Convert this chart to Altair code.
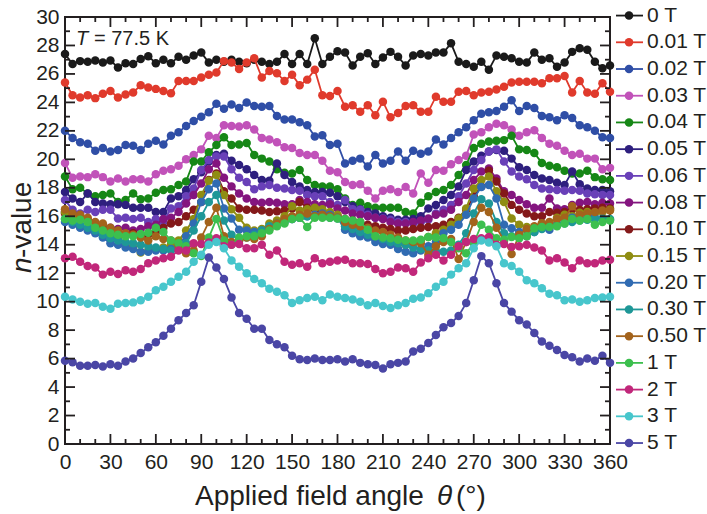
import altair as alt
import pandas as pd

# Angular sweep of the applied field (degrees)
ANGLES = list(range(0, 361, 5))

FIELD_LABELS = ["0 T", "0.01 T", "0.02 T", "0.03 T", "0.04 T", "0.05 T", "0.06 T",
                "0.08 T", "0.10 T", "0.15 T", "0.20 T", "0.30 T", "0.50 T",
                "1 T", "2 T", "3 T", "5 T"]

COLORS = ["#1a1a1a", "#e03a2c", "#2f4ea6", "#c152b9", "#168716", "#2e1f7e", "#6940b8",
          "#84157f", "#84191a", "#8f8d12", "#306bb2", "#1e9797", "#a3631c",
          "#3cbf4e", "#c1277a", "#47c6cc", "#4a46a5"]

# n-value at each angle, one list per applied field
N_0T = [27.4, 26.7, 26.9, 26.85, 26.95, 26.8, 26.95, 26.45, 26.75, 26.7, 27.05, 27.25,
        26.75, 27.0, 26.75, 27.2, 27.0, 27.3, 27.5, 26.8, 27.0, 26.85, 27.0, 26.85,
        26.75, 27.0, 26.85, 26.7, 26.85, 27.4, 26.7, 27.4, 26.7, 28.5, 26.7, 27.2,
        27.6, 27.5, 26.6, 27.2, 27.45, 26.7, 27.15, 27.55, 27.2, 26.6, 27.3, 27.4,
        27.3, 27.5, 27.5, 28.15, 26.85, 26.7, 26.5, 26.85, 26.3, 27.3, 27.2, 27.1,
        26.85, 26.8, 27.5, 27.0, 27.1, 26.5, 26.8, 27.55, 27.8, 27.7, 26.85, 26.4,
        26.6]
N_001 = [25.4, 24.5, 24.35, 24.5, 24.3, 24.6, 24.8, 24.35, 24.55, 24.7, 25.2, 25.05,
         24.95, 24.8, 24.65, 25.5, 25.5, 25.5, 25.75, 25.95, 26.1, 26.9, 26.8, 26.35,
         26.8, 27.1, 25.75, 26.2, 26.05, 25.5, 25.95, 25.2, 25.6, 26.3, 24.5, 24.45,
         24.8, 23.7, 23.8, 23.35, 23.8, 23.1, 24.05, 22.95, 23.25, 23.75, 23.8, 23.35,
         23.35, 24.4, 24.05, 24.05, 24.75, 24.8, 24.5, 24.7, 24.75, 24.9, 25.1, 25.4,
         25.45, 25.45, 25.45, 25.35, 25.7, 25.7, 25.85, 24.7, 25.5, 24.7, 24.6, 25.35,
         24.75]
N_002 = [22.0, 21.5, 21.2, 21.1, 20.6, 20.8, 20.55, 20.65, 21.0, 20.95, 20.65, 21.1,
         21.3, 21.05, 21.65, 21.9, 22.35, 22.7, 23.0, 23.3, 23.9, 23.55, 23.85, 23.6,
         24.0, 23.75, 23.7, 23.75, 23.05, 22.8, 22.8, 22.6, 22.4, 21.6, 21.7, 21.0,
         21.1, 19.7, 19.9, 20.05, 19.5, 20.3, 19.7, 19.9, 20.55, 19.9, 20.6, 20.4,
         20.55, 21.4, 21.05, 21.5, 21.9, 22.25, 22.75, 23.2, 23.3, 23.4, 23.7, 24.15,
         23.4, 23.75, 23.6, 23.05, 22.95, 22.75, 23.1, 22.9, 22.4, 22.25, 22.0, 21.55,
         21.5]
N_003 = [19.75, 18.7, 18.8, 18.75, 18.95, 18.75, 18.45, 18.65, 18.45, 18.6, 18.6, 18.45,
         18.95, 19.2, 19.3, 19.55, 20.0, 20.3, 20.7, 21.65, 21.5, 22.4, 22.35, 22.3,
         22.4, 22.1, 21.5, 21.4, 21.2, 20.85, 20.8, 20.45, 20.3, 20.3, 19.9, 19.2,
         19.1, 18.4, 18.2, 18.25, 17.8, 17.25, 17.8, 17.9, 17.7, 18.05, 17.6, 19.0,
         18.35, 19.25, 19.2, 19.65, 19.95, 20.25, 21.75, 21.9, 22.25, 22.5, 22.4, 22.1,
         21.65, 21.9, 22.05, 21.5, 21.1, 20.95, 20.6, 20.3, 20.4, 20.05, 20.05, 19.3,
         19.4]
N_004 = [18.8, 17.9, 18.0, 17.6, 17.4, 17.5, 17.6, 17.0, 17.15, 17.6, 17.2, 17.25,
         17.65, 17.85, 17.9, 18.2, 18.45, 19.85, 19.85, 20.5, 21.0, 21.55, 21.0, 21.05,
         21.15, 20.3, 20.05, 19.85, 19.3, 19.05, 19.0, 19.25, 18.55, 18.2, 18.1, 18.1,
         17.9, 17.25, 16.8, 16.95, 16.7, 16.6, 16.6, 16.6, 16.6, 16.3, 16.2, 16.95,
         17.4, 17.7, 17.85, 18.2, 18.9, 19.6, 20.8, 21.1, 21.25, 21.3, 21.35, 21.65,
         20.7, 20.65, 20.45, 19.75, 19.55, 19.45, 19.2, 19.0, 19.0, 19.2, 18.75, 18.6,
         18.55]
N_005 = [17.7, 17.25, 17.0, 17.6, 17.0, 16.9, 16.85, 16.85, 16.8, 16.6, 16.6, 16.6,
         16.3, 16.3, 17.25, 17.4, 17.85, 18.6, 19.1, 19.85, 20.3, 20.4, 19.9, 19.6,
         19.3, 18.9, 18.55, 18.5, 19.7, 18.9, 18.4, 18.1, 17.85, 17.7, 17.7, 17.65,
         17.4, 17.0, 16.7, 16.5, 16.3, 16.2, 16.0, 15.9, 15.75, 15.75, 15.8, 16.0,
         16.55, 16.8, 17.15, 17.5, 18.1, 19.25, 19.85, 20.25, 20.55, 20.65, 20.6, 20.05,
         19.45, 19.25, 18.9, 18.65, 18.55, 18.35, 18.2, 19.15, 18.25, 17.95, 17.85, 17.85,
         17.75]
N_006 = [17.15, 16.45, 16.2, 16.45, 16.3, 16.45, 16.45, 15.85, 15.9, 15.8, 15.9, 15.6,
         15.8, 15.6, 16.55, 16.7, 17.4, 17.95, 19.25, 19.95, 20.2, 20.2, 19.3, 18.7,
         18.4, 17.9, 18.1, 18.2, 18.0, 17.95, 17.85, 17.8, 17.5, 17.4, 17.4, 17.0,
         16.8, 17.15, 16.5, 16.45, 16.1, 15.9, 15.85, 15.75, 15.6, 15.6, 15.5, 15.6,
         15.75, 16.2, 16.45, 16.8, 17.4, 18.3, 19.25, 19.95, 20.55, 20.7, 19.85, 19.15,
         18.8, 18.6, 18.2, 17.95, 17.9, 17.85, 17.8, 17.85, 17.8, 17.6, 17.55, 17.5,
         17.5]
N_008 = [16.3, 16.1, 15.9, 15.7, 15.5, 15.3, 15.2, 15.1, 15.2, 15.0, 15.1, 15.3,
         15.4, 15.8, 15.9, 16.3, 16.9, 17.5, 18.3, 19.3, 19.7, 18.7, 18.1, 17.6,
         17.25, 17.0, 16.95, 17.0, 16.95, 16.85, 16.85, 17.15, 17.0, 16.85, 16.8, 16.85,
         16.55, 16.4, 16.2, 16.1, 16.0, 15.9, 15.8, 15.6, 15.5, 15.5, 15.6, 15.7,
         15.85, 16.1, 16.2, 16.45, 17.0, 17.5, 18.55, 19.15, 19.35, 18.65, 17.75, 17.5,
         17.15, 16.85, 16.6, 16.6, 17.25, 16.55, 16.5, 16.8, 16.95, 17.0, 16.85, 16.95,
         16.9]
N_010 = [16.2, 16.0, 15.9, 15.7, 15.5, 15.2, 15.0, 14.9, 14.7, 14.8, 14.6, 14.7,
         14.9, 15.2, 15.5, 15.6, 16.0, 16.45, 17.0, 18.55, 19.0, 17.75, 17.25, 16.55,
         16.45, 16.45, 16.4, 16.3, 16.35, 16.4, 16.55, 17.0, 16.6, 16.5, 16.3, 16.2,
         16.0, 15.8, 15.7, 15.6, 15.4, 15.3, 15.2, 15.1, 15.0, 15.0, 15.1, 15.2,
         15.25, 15.3, 15.4, 15.6, 15.9, 16.45, 17.4, 18.1, 19.2, 18.45, 17.6, 16.8,
         16.45, 16.2, 16.0, 16.0, 16.3, 16.25, 16.3, 16.5, 16.45, 16.5, 16.55, 16.6,
         16.55]
N_015 = [16.3, 16.0, 15.8, 15.6, 15.3, 15.0, 14.6, 14.4, 14.1, 13.8, 13.45, 13.6,
         13.7, 13.8, 14.0, 14.3, 15.0, 15.8, 17.5, 18.5, 18.9, 17.5, 16.5, 15.9,
         15.2, 15.0, 15.1, 15.5, 15.7, 16.0, 16.7, 16.4, 16.5, 16.6, 16.5, 16.3,
         16.1, 15.4, 15.25, 15.2, 15.1, 14.55, 14.35, 14.2, 14.05, 14.0, 14.1, 14.3,
         14.55, 14.8, 15.05, 15.4, 15.85, 16.55, 17.95, 18.55, 18.8, 17.75, 17.0, 15.85,
         15.4, 15.25, 15.2, 15.5, 15.55, 15.9, 16.1, 16.0, 16.25, 16.3, 16.2, 16.3,
         16.45]
N_020 = [15.6, 15.4, 15.2, 15.0, 14.8, 14.5, 14.1, 14.0, 13.8, 13.7, 13.5, 13.5,
         13.6, 13.6, 13.7, 14.0, 14.6, 15.5, 17.0, 17.9, 18.3, 16.55, 15.85, 15.05,
         15.0, 14.9, 15.0, 15.2, 15.4, 15.6, 15.8, 15.9, 16.0, 16.1, 16.2, 16.1,
         15.9, 15.05, 14.8, 14.6, 14.5, 14.2, 14.05, 14.0, 13.7, 13.5, 13.4, 13.6,
         13.9, 14.2, 14.8, 15.05, 15.4, 16.1, 17.25, 18.05, 18.2, 17.25, 15.4, 15.15,
         14.9, 15.05, 14.9, 15.15, 15.05, 15.4, 15.75, 15.9, 15.75, 16.1, 15.9, 15.85,
         15.75]
N_030 = [15.8, 15.6, 15.4, 15.2, 15.0, 14.7, 14.45, 14.3, 14.2, 14.1, 14.0, 13.9,
         13.8, 13.7, 13.6, 13.8, 14.1, 15.0, 16.0, 17.0, 17.5, 15.7, 14.7, 14.3,
         14.5, 14.7, 15.0, 15.3, 15.5, 15.7, 15.8, 15.9, 16.0, 16.0, 16.0, 15.9,
         15.85, 15.3, 15.1, 14.9, 14.7, 14.6, 14.4, 14.2, 14.1, 14.0, 13.8, 13.7,
         13.6, 13.55, 13.5, 13.6, 14.0, 14.8, 16.2, 17.2, 16.9, 15.6, 14.8, 14.6,
         14.5, 14.6, 14.9, 15.1, 15.3, 15.4, 15.5, 15.6, 15.7, 15.75, 15.8, 15.8,
         15.8]
N_050 = [16.5, 16.2, 16.1, 15.9, 15.6, 15.5, 15.2, 15.0, 14.8, 14.7, 14.5, 14.3,
         14.6, 14.4, 14.3, 13.9, 13.4, 13.6, 14.5, 15.6, 16.6, 14.6, 14.2, 14.3,
         14.5, 14.4, 14.6, 15.1, 15.5, 15.8, 16.0, 16.1, 16.2, 16.0, 16.1, 16.0,
         15.9, 15.6, 15.4, 15.3, 15.2, 15.0, 14.9, 14.7, 14.5, 14.3, 14.2, 14.1,
         13.3, 13.9, 14.2, 14.4, 13.0, 14.2, 15.6, 16.6, 16.3, 15.2, 14.3, 13.35,
         14.7, 15.1, 15.3, 15.5, 15.6, 15.8, 15.9, 16.7, 16.1, 16.2, 16.3, 16.4,
         16.4]
N_1 = [15.8, 15.7, 15.75, 15.6, 15.2, 15.0, 14.8, 14.7, 14.6, 14.6, 14.75, 14.85,
       15.2, 14.9, 14.3, 14.1, 13.9, 13.4, 13.2, 14.5, 15.8, 14.3, 14.0, 14.5,
       14.6, 14.6, 14.8, 15.0, 15.3, 15.5, 15.8, 15.9, 15.25, 15.9, 15.9, 15.9,
       15.85, 15.8, 15.7, 15.6, 15.05, 14.6, 14.5, 14.45, 14.35, 14.3, 14.3, 14.35,
       14.55, 14.5, 14.45, 14.2, 13.75, 13.4, 14.1, 15.4, 15.05, 14.45, 14.35, 14.55,
       14.45, 14.6, 15.15, 15.25, 15.25, 15.3, 15.5, 15.8, 15.7, 15.8, 15.4, 15.6,
       15.7]
N_2 = [13.05, 13.15, 12.8, 12.5, 12.4, 11.9, 12.1, 11.95, 12.2, 12.1, 12.3, 12.7,
       12.9, 13.05, 13.15, 13.6, 13.6, 14.1, 14.05, 14.15, 14.45, 13.9, 14.0, 14.05,
       13.75, 13.75, 14.0, 13.3, 13.6, 12.8, 12.6, 12.7, 12.45, 13.05, 12.7, 12.8,
       12.9, 12.95, 12.7, 12.7, 12.65, 12.3, 12.0, 12.1, 12.4, 12.35, 12.1, 12.75,
       13.05, 13.3, 12.9, 13.3, 13.9, 14.2, 14.4, 14.45, 14.55, 14.0, 14.05, 13.85,
       13.9, 14.0, 13.8, 13.6, 12.9, 13.05, 12.75, 12.35, 12.9, 12.7, 12.7, 12.9,
       12.95]
N_3 = [10.35, 10.15, 10.0, 9.85, 9.9, 9.65, 9.5, 9.85, 9.9, 9.95, 10.1, 10.35,
       10.8, 11.05, 11.4, 11.75, 12.1, 12.8, 13.3, 14.0, 14.2, 13.75, 12.9, 12.45,
       12.0, 11.6, 11.3, 10.9, 10.7, 10.45, 9.9, 10.1, 10.25, 10.35, 10.1, 10.5,
       10.35, 10.25, 10.15, 10.0, 9.75, 9.9, 9.7, 9.55, 9.75, 9.9, 10.2, 10.3,
       10.6, 11.05, 11.4, 11.9, 12.35, 12.7, 13.75, 14.3, 14.15, 13.9, 12.7, 12.5,
       12.1, 11.5, 11.3, 10.95, 10.55, 10.45, 10.1, 10.15, 10.0, 10.1, 10.25, 10.3,
       10.35]
N_5 = [5.85, 5.75, 5.5, 5.5, 5.55, 5.45, 5.6, 5.5, 5.8, 6.0, 6.4, 6.8,
       7.15, 7.6, 8.1, 8.7, 9.2, 9.75, 11.4, 13.1, 12.4, 11.6, 10.3, 9.2,
       8.8, 8.1, 8.1, 7.3, 7.0, 6.8, 6.2, 5.95, 5.9, 6.0, 5.9, 5.9,
       5.95, 5.8, 5.95, 5.7, 5.6, 5.55, 5.3, 5.6, 5.7, 5.8, 6.5, 6.7,
       7.1, 7.65, 8.2, 8.5, 9.0, 9.9, 11.5, 13.2, 12.7, 11.3, 9.9, 9.3,
       8.7, 8.4, 7.8, 7.2, 6.9, 6.6, 6.25, 6.1, 5.8, 6.0, 5.85, 6.2,
       5.7]

SERIES = [N_0T, N_001, N_002, N_003, N_004, N_005, N_006, N_008, N_010, N_015,
          N_020, N_030, N_050, N_1, N_2, N_3, N_5]

X_MAJOR = list(range(0, 361, 30))
X_MINOR = [a for a in range(0, 361, 10) if a % 30 != 0]
Y_MAJOR = list(range(0, 31, 2))
Y_MINOR = list(range(1, 30, 2))

W, H = 545, 427
FONT = "Liberation Sans"
INK = "#231f20"
DOT = 72
LINE_W = 1.8

x_scale = alt.Scale(domain=[0, 360], nice=False, zero=False)
y_scale = alt.Scale(domain=[0, 30], nice=False, zero=False)
color_scale = alt.Scale(domain=FIELD_LABELS, range=COLORS)

# the same axis definition on every layer so the shared axes merge cleanly
x_axis = alt.Axis(values=X_MAJOR, ticks=False, domain=False, grid=False,
                  labelFontSize=21, labelPadding=7, labelFlush=False,
                  labelOverlap=False, labelFont=FONT, labelColor=INK, title=None)
y_axis = alt.Axis(values=Y_MAJOR, ticks=False, domain=False, grid=False,
                  labelFontSize=21, labelPadding=6, labelFlush=False,
                  labelOverlap=False, labelFont=FONT, labelColor=INK, title=None)


def X(field):
    return alt.X(field, scale=x_scale, axis=x_axis)


def Y(field):
    return alt.Y(field, scale=y_scale, axis=y_axis)


layers = []

# one line+marker layer per field so each series stacks over the previous one
for label_text, vals in zip(FIELD_LABELS, SERIES):
    sub = pd.DataFrame({"angle": ANGLES, "n": vals, "field": label_text})
    layers.append(
        alt.Chart(sub).mark_line(
            strokeWidth=LINE_W,
            point=alt.OverlayMarkDef(filled=True, size=DOT, opacity=1),
        ).encode(
            x=X("angle:Q"), y=Y("n:Q"),
            color=alt.Color("field:N", scale=color_scale, legend=None),
        )
    )


# inward tick marks on all four sides of the frame
def x_ticks(values, length):
    d = pd.DataFrame({"t": values})
    bottom = alt.Chart(d).mark_rule(color=INK, strokeWidth=1.8).encode(
        x=X("t:Q"), y=alt.value(H), y2=alt.value(H - length))
    top = alt.Chart(d).mark_rule(color=INK, strokeWidth=1.8).encode(
        x=X("t:Q"), y=alt.value(0), y2=alt.value(length))
    return [bottom, top]


def y_ticks(values, length):
    d = pd.DataFrame({"t": values})
    left = alt.Chart(d).mark_rule(color=INK, strokeWidth=1.8).encode(
        y=Y("t:Q"), x=alt.value(0), x2=alt.value(length))
    right = alt.Chart(d).mark_rule(color=INK, strokeWidth=1.8).encode(
        y=Y("t:Q"), x=alt.value(W), x2=alt.value(W - length))
    return [left, right]


layers += x_ticks(X_MAJOR, 10) + x_ticks(X_MINOR, 5)
layers += y_ticks(Y_MAJOR, 10) + y_ticks(Y_MINOR, 5)

# legend column to the right of the frame
legend_df = pd.DataFrame({"field": FIELD_LABELS, "idx": list(range(len(FIELD_LABELS)))})
legend_base = alt.Chart(legend_df).transform_calculate(ly="30.1 - datum.idx * 1.877")
lcolor = alt.Color("field:N", scale=color_scale, legend=None)
layers.append(legend_base.mark_rule(strokeWidth=LINE_W).encode(
    y=Y("ly:Q"), x=alt.value(551), x2=alt.value(578), color=lcolor))
layers.append(legend_base.mark_point(filled=True, size=DOT, opacity=1).encode(
    y=Y("ly:Q"), x=alt.value(564), color=lcolor))
layers.append(legend_base.mark_text(align="left", baseline="middle", fontSize=21,
                                    font=FONT, color=INK).encode(
    y=Y("ly:Q"), x=alt.value(582), text="field:N"))

one = pd.DataFrame({"k": [0]})


def label(text, x, y, size, italic=False, angle=0):
    kw = dict(text=text, align="left", baseline="alphabetic", fontSize=size,
              font=FONT, color=INK)
    if italic:
        kw["fontStyle"] = "italic"
    if angle:
        kw["angle"] = angle
    return alt.Chart(one).mark_text(**kw).encode(x=alt.value(x), y=alt.value(y))


# temperature annotation
layers.append(label("T", 11, 28, 20, italic=True))
layers.append(label("= 77.5 K", 29, 28, 20))

# axis titles with italic symbols
layers.append(label("Applied field angle", 130, 488, 28))
layers.append(label("\u03b8", 372, 488, 28, italic=True))
layers.append(label("(\u00b0)", 391, 488, 28))
layers.append(label("n", -34, 256, 28, italic=True, angle=270))
layers.append(label("-value", -34, 241, 28, angle=270))

chart = alt.layer(*layers).properties(
    width=W, height=H,
    padding={"left": 65, "top": 17, "right": 97, "bottom": 70},
    autosize=alt.AutoSizeParams(type="none"),
).configure_view(stroke=INK, strokeWidth=2)

chart.save("out.html", embed_options={"renderer": "svg", "actions": False})
